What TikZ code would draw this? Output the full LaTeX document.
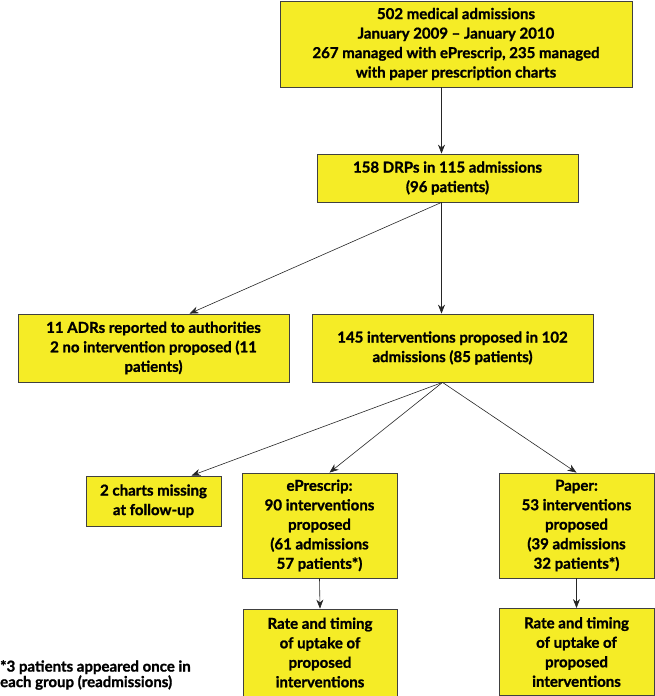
\documentclass[tikz,border=0pt]{standalone}
\usepackage{fontspec}
\setmainfont{Lato}[BoldFeatures = {FakeBold = 1.2}]
\usetikzlibrary{arrows.meta}
\definecolor{boxyellow}{RGB}{245,236,38}
\tikzset{flowbox/.style = {draw = black!75, fill = boxyellow, line width = 0.8pt, align = center, inner sep = 0, font = \bfseries\fontsize{15}{19.5}\selectfont}}
\tikzset{flowarrow/.style = {-{Stealth[length = 9pt, width = 7pt]}, draw = black!85, line width = 0.6pt}}

\begin{document}
\begin{tikzpicture}[x = 1pt, y = -1pt]
    \useasboundingbox (0, 0) rectangle (655, 696);

    % boxes, top to bottom
    \node (top) [flowbox, minimum width = 352pt, minimum height = 86pt] at (456, 44) {502 medical admissions\\ January 2009 -- January 2010\\ 267 managed with ePrescrip, 235 managed\\ with paper prescription charts};
    \node (drp) [flowbox, minimum width = 261pt, minimum height = 48pt] at (447.5, 178) {158 DRPs in 115 admissions\\ (96 patients)};
    \node (adr) [flowbox, minimum width = 271pt, minimum height = 68pt] at (153.5, 348) {11 ADRs reported to authorities\\ 2 no intervention proposed (11\\ patients)};
    \node (intv) [flowbox, minimum width = 281pt, minimum height = 68pt] at (452.5, 348) {145 interventions proposed in 102\\ admissions (85 patients)};
    \node (charts) [flowbox, minimum width = 135pt, minimum height = 50pt] at (153.5, 501) {2 charts missing\\ at follow-up};
    \node (epre) [flowbox, minimum width = 155pt, minimum height = 105pt] at (319.5, 525.5) {ePrescrip:\\ 90 interventions\\ proposed\\ (61 admissions\\ 57 patients*)};
    \node (paper) [flowbox, minimum width = 155pt, minimum height = 105pt] at (576.5, 525.5) {Paper:\\ 53 interventions\\ proposed\\ (39 admissions\\ 32 patients*)};
    \node (rate1) [flowbox, minimum width = 154pt, minimum height = 87pt] at (320, 652.5) {Rate and timing\\ of uptake of\\ proposed\\ interventions};
    \node (rate2) [flowbox, minimum width = 155pt, minimum height = 87pt] at (576.5, 652) {Rate and timing\\ of uptake of\\ proposed\\ interventions};

    \node (note) [anchor = west, align = left, inner sep = 0, font = \bfseries\fontsize{15}{15.5}\selectfont] at (0, 675) {*3 patients appeared once in\\ each group (readmissions)};

    % connectors
    \coordinate (drpin) at ([xshift = -6pt] drp.north);
    \coordinate (drpout) at ([xshift = -6pt] drp.south);
    \coordinate (intvout) at ([xshift = -10pt] intv.south);
    \draw [flowarrow] (top.south -| drpin) -- (drpin);
    \draw [flowarrow] (drpout) -- ([xshift = 36pt] adr.north);
    \draw [flowarrow] (drpout) -- (intv.north -| drpout);
    \draw [flowarrow] (intvout) -- ([xshift = 38pt] charts.north);
    \draw [flowarrow] (intvout) -- ([xshift = 10pt] epre.north);
    \draw [flowarrow] (intvout) -- (paper.north);
    \draw [flowarrow] (epre.south) -- (rate1.north);
    \draw [flowarrow] (paper.south) -- (rate2.north);
\end{tikzpicture}
\end{document}
